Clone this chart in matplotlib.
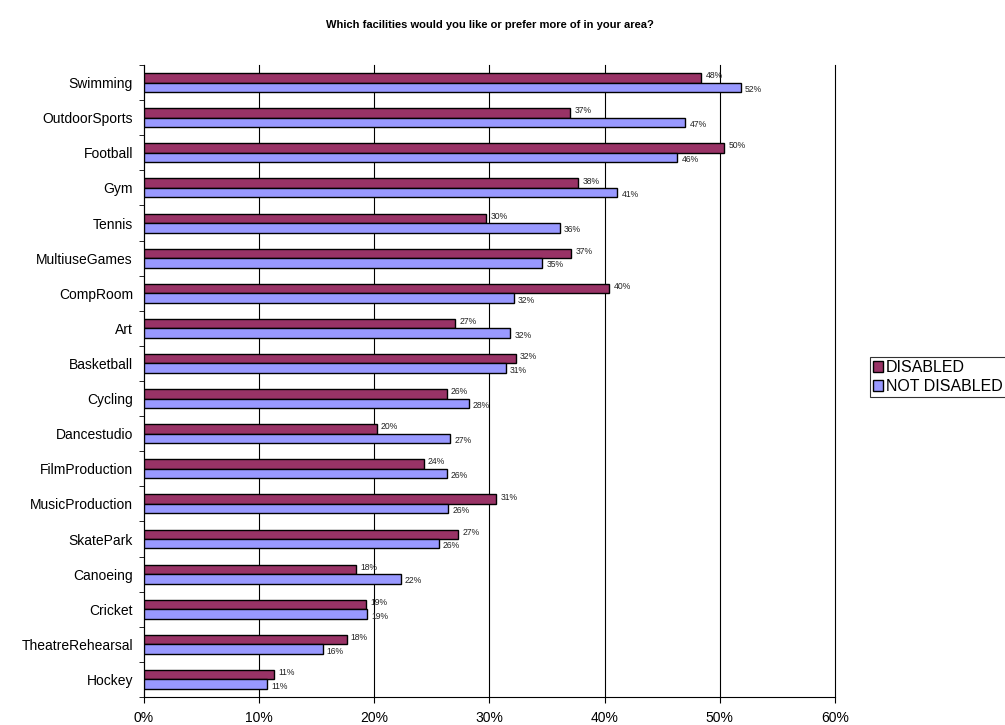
import numpy as np
import matplotlib.pyplot as plt
from matplotlib.ticker import FuncFormatter

plt.rcParams['font.family'] = ['Liberation Sans', 'DejaVu Sans']

categories = ["Swimming", "OutdoorSports", "Football", "Gym", "Tennis", "MultiuseGames",
              "CompRoom", "Art", "Basketball", "Cycling", "Dancestudio", "FilmProduction",
              "MusicProduction", "SkatePark", "Canoeing", "Cricket", "TheatreRehearsal", "Hockey"]
disabled = [48.4, 37.0, 50.4, 37.7, 29.7, 37.1, 40.4, 27.0, 32.3, 26.3, 20.2, 24.3,
            30.6, 27.3, 18.4, 19.3, 17.6, 11.3]
not_disabled = [51.8, 47.0, 46.3, 41.1, 36.1, 34.6, 32.1, 31.8, 31.4, 28.2, 26.6, 26.3,
                26.4, 25.6, 22.3, 19.4, 15.5, 10.7]

fig = plt.figure(figsize=(10.05, 7.25), dpi=100)
ax = fig.add_axes([0.1433, 0.0386, 0.6875, 0.8717])

n = len(categories)
y = np.arange(n)[::-1]
h = 0.27
b1 = ax.barh(y + h / 2, disabled, height=h, color="#993366", edgecolor="black",
             linewidth=1, label="DISABLED", zorder=3)
b2 = ax.barh(y - h / 2, not_disabled, height=h, color="#9999FF", edgecolor="black",
             linewidth=1, label="NOT DISABLED", zorder=3)

for bars, vals, dy in ((b1, disabled, 1.5), (b2, not_disabled, -1.5)):
    for bar, v in zip(bars, vals):
        ax.annotate(f"{round(v):.0f}%", (v, bar.get_y() + bar.get_height() / 2),
                    xytext=(3, dy), textcoords="offset points", ha="left", va="center",
                    fontsize=6.2, color="#222222")

ax.set_xlim(0, 60)
ax.set_ylim(-0.5, n - 0.5)
ax.set_xticks(np.arange(0, 61, 10))
ax.xaxis.set_major_formatter(FuncFormatter(lambda v, p: f"{v:.0f}%"))
ax.set_yticks(y)
ax.set_yticklabels(categories)
ax.set_yticks(np.arange(-0.5, n, 1), minor=True)
ax.tick_params(axis="y", which="major", length=0, pad=8, labelsize=10)
ax.tick_params(axis="y", which="minor", length=3.5, direction="out")
ax.tick_params(axis="x", length=4, direction="out", labelsize=10, pad=6)
ax.grid(axis="x", color="black", linewidth=0.8, zorder=0)
for gl in ax.get_xgridlines():
    gl.set_clip_on(False)
for s in ("top", "right"):
    ax.spines[s].set_visible(False)
ax.spines["left"].set_linewidth(0.8)
ax.spines["bottom"].set_linewidth(0.8)

ax.set_title("Which facilities would you like or prefer more of in your area?",
             fontsize=8, fontweight="bold", pad=27, x=0.5)

leg = fig.legend(loc="upper left", bbox_to_anchor=(0.8657, 0.5076), fontsize=11.5,
                 frameon=True, fancybox=False, edgecolor="black", borderpad=0.2,
                 handlelength=0.6, handleheight=0.6, handletextpad=0.2, labelspacing=0.25,
                 borderaxespad=0)
leg.get_frame().set_linewidth(0.8)

fig.savefig("out.png", dpi=100)
